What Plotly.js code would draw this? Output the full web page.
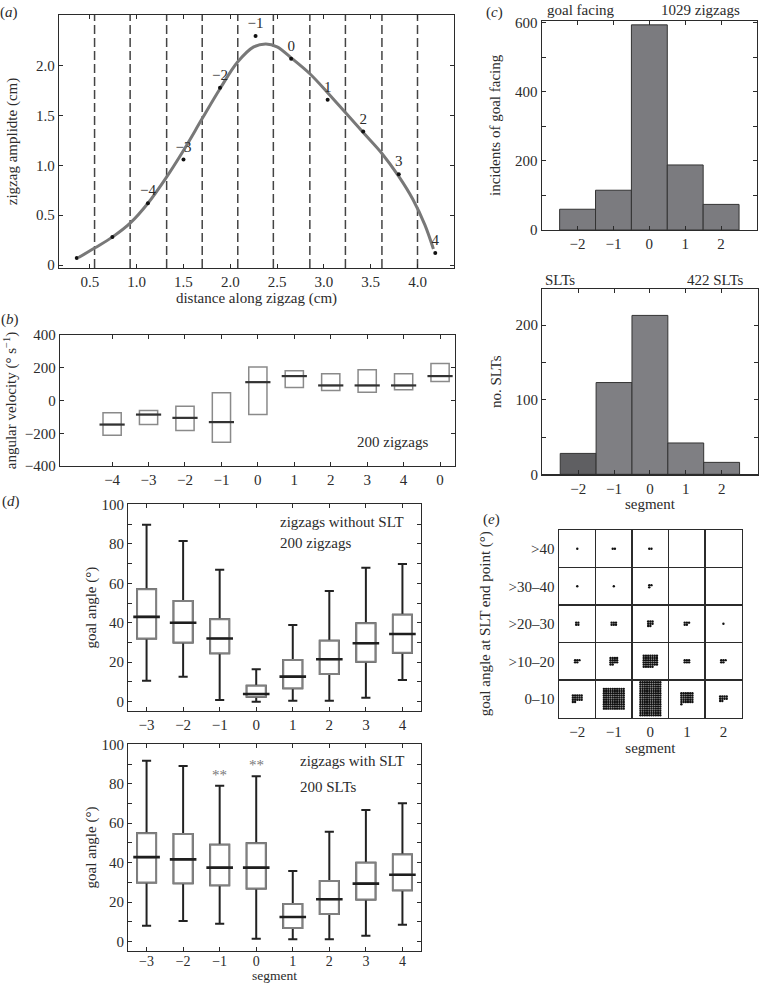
<!DOCTYPE html>
<html><head><meta charset="utf-8">
<script src="https://cdn.plot.ly/plotly-3.0.1.min.js"></script>
<style>html,body{margin:0;padding:0;background:#fff}#chart{width:759px;height:983px}</style>
</head><body><div id="chart"></div>
<script>
// ---------------- DATA ----------------
// (a) zigzag amplitude along the zigzag
const segBoundaries = [0.55, 0.93, 1.32, 1.70, 2.08, 2.46, 2.85, 3.23, 3.62, 4.00];
const curveX = [0.38, 0.55, 0.74, 0.93, 1.12, 1.31, 1.50, 1.70, 1.89, 2.08, 2.25, 2.38, 2.50, 2.65, 2.85, 3.04, 3.23, 3.42, 3.62, 3.80, 3.95, 4.08, 4.17];
const curveY = [0.075, 0.17, 0.28, 0.42, 0.62, 0.87, 1.15, 1.47, 1.77, 2.04, 2.19, 2.22, 2.19, 2.08, 1.92, 1.73, 1.53, 1.33, 1.12, 0.89, 0.66, 0.40, 0.16];
const ptX = [0.36, 0.74, 1.12, 1.50, 1.89, 2.27, 2.65, 3.04, 3.42, 3.80, 4.19];
const ptY = [0.07, 0.28, 0.62, 1.06, 1.78, 2.30, 2.07, 1.66, 1.34, 0.91, 0.12];
const segLabels = ['\u22124', '\u22123', '\u22122', '\u22121', '0', '1', '2', '3', '4']; // labels of points 3..11

// (b) angular velocity per segment (box: q1, median, q3)
const velCats = ['\u22124', '\u22123', '\u22122', '\u22121', '0', '1', '2', '3', '4', '0'];
const velQ1  = [-212, -147, -183, -255, -86, 80, 61, 51, 65, 116];
const velMed = [-147, -86, -106, -132, 112, 149, 92, 92, 92, 149];
const velQ3  = [-75, -61, -35, 47, 204, 181, 163, 188, 163, 226];

// (c) histograms
const histSegments = [-2, -1, 0, 1, 2];
const goalFacing = [60, 115, 593, 188, 74];
const sltCounts = [28, 123, 213, 42, 16];

// (d) goal angle box plots
const dSegments = [-3, -2, -1, 0, 1, 2, 3, 4];
const noSltMin = [10.6, 12.7, 0.9, 0, 0.5, 0.5, 2, 11];
const noSltQ1  = [32, 30, 24.5, 2.5, 6.8, 14, 20.3, 24.8];
const noSltMed = [43, 40, 32, 3.9, 12.7, 21.5, 29.6, 34.3];
const noSltQ3  = [57, 51, 41.8, 8.1, 21.1, 30.9, 39.7, 44];
const noSltMax = [89.6, 81.4, 66.8, 16.4, 38.9, 56.1, 67.8, 69.8];
const sltMin = [8, 10.5, 9, 1.5, 1.2, 1.2, 3, 8.6];
const sltQ1  = [29.9, 29.6, 28.6, 26.9, 6.9, 14, 21.3, 26];
const sltMed = [42.8, 41.7, 37.5, 37.5, 12.5, 21.5, 29.4, 33.9];
const sltQ3  = [54.9, 54.6, 49.1, 49.8, 19.1, 30.7, 40, 44.1];
const sltMax = [91.7, 89, 79, 83.8, 35.8, 55.7, 66.7, 70.1];
const sigSegments = [-1, 0];
const sigLabels = ['**', '**'];

// (e) goal angle at SLT end point: rows = angle bins, cols = segments -2..2
const endSegments = [-2, -1, 0, 1, 2];
const endAngleBins = ['0\u201310', '>10\u201320', '>20\u201330', '>30\u201340', '>40'];
const endCounts = [
  [17, 100, 160, 31, 10],
  [5, 14, 40, 6, 5],
  [4, 6, 8, 5, 1],
  [1, 1, 3, 0, 0],
  [1, 2, 2, 0, 0]
];

// ---------------- STYLE / LAYOUT ----------------
const F = "'Liberation Serif', 'Times New Roman', serif";
const INK = '#2b2b2b';
const W = 759, H = 983;
const dom = (a, b) => [a / W, b / W];
const domY = (t, b) => [1 - b / H, 1 - t / H];
const P = (px, py) => ({x: px / W, y: 1 - py / H, xref: 'paper', yref: 'paper'});

function axis(extra) {
  return Object.assign({
    showline: true, linecolor: INK, linewidth: 1.2, mirror: 'allticks',
    ticks: 'inside', ticklen: 4, tickwidth: 1, tickcolor: INK,
    zeroline: false, showgrid: false, fixedrange: true,
    tickfont: {family: F, size: 15, color: INK}
  }, extra);
}
function ttl(text, standoff) { return {text: text, font: {family: F, size: 15, color: INK}, standoff: standoff}; }
function blankOdd(vals, every) { return vals.map((v, i) => (i % every === 0 ? String(v) : '')); }

const traces = [];

// (a)
traces.push({x: curveX, y: curveY, mode: 'lines', line: {shape: 'spline', smoothing: 1.0, color: '#787878', width: 3},
  xaxis: 'x', yaxis: 'y', hoverinfo: 'skip'});
traces.push({x: ptX, y: ptY, mode: 'markers', marker: {size: 4, color: '#111'},
  xaxis: 'x', yaxis: 'y', hoverinfo: 'skip'});
const firstLabelled = ptX.length - segLabels.length;
traces.push({x: ptX.slice(firstLabelled), y: ptY.slice(firstLabelled), mode: 'markers+text', text: segLabels,
  textposition: 'top center', textfont: {family: F, size: 15, color: INK},
  marker: {size: 5, color: 'rgba(0,0,0,0)'},
  xaxis: 'x', yaxis: 'y', hoverinfo: 'skip'});

// (b)
const velPos = velCats.map((_, i) => i + 1);
traces.push({type: 'box', x: velPos, q1: velQ1, median: velMed, q3: velQ3, lowerfence: velQ1, upperfence: velQ3,
  width: 0.5, line: {color: '#8a8a8a', width: 1.5}, fillcolor: 'rgba(255,255,255,1)', boxpoints: false,
  xaxis: 'x2', yaxis: 'y2', hoverinfo: 'skip'});
traces.push({x: velPos, y: velMed, mode: 'markers', marker: {symbol: 'line-ew', size: 18, line: {width: 2.2, color: '#333'}},
  xaxis: 'x2', yaxis: 'y2', hoverinfo: 'skip'});

// (c)
traces.push({type: 'bar', x: histSegments, y: goalFacing, width: 1,
  marker: {color: '#7b7b7f', line: {color: '#333', width: 1}}, xaxis: 'x3', yaxis: 'y3', hoverinfo: 'skip'});
traces.push({type: 'bar', x: histSegments, y: sltCounts, width: 1,
  marker: {color: histSegments.map(s => (s === -2 ? '#5f5f62' : '#7f7f83')), line: {color: '#333', width: 1}},
  xaxis: 'x4', yaxis: 'y4', hoverinfo: 'skip'});

// (d)
function boxSet(xa, ya, mn, q1, md, q3, mx) {
  traces.push({type: 'box', x: dSegments, q1: q1, median: md, q3: q3, lowerfence: mn, upperfence: mx,
    width: 0.52, whiskerwidth: 0.48, line: {color: '#222', width: 2}, fillcolor: 'rgba(0,0,0,0)', boxpoints: false,
    xaxis: xa, yaxis: ya, hoverinfo: 'skip'});
  traces.push({type: 'box', x: dSegments, q1: q1, median: md, q3: q3, lowerfence: q1, upperfence: q3,
    width: 0.52, line: {color: '#808080', width: 2}, fillcolor: 'rgba(255,255,255,1)', boxpoints: false,
    xaxis: xa, yaxis: ya, hoverinfo: 'skip'});
  traces.push({x: dSegments, y: md, mode: 'markers', marker: {symbol: 'line-ew', size: 19, line: {width: 2.6, color: '#1e1e1e'}},
    xaxis: xa, yaxis: ya, hoverinfo: 'skip'});
}
boxSet('x5', 'y5', noSltMin, noSltQ1, noSltMed, noSltQ3, noSltMax);
boxSet('x6', 'y6', sltMin, sltQ1, sltMed, sltQ3, sltMax);

// (e) dot matrix: one dot per SLT, packed in a small block centred in each cell
const dotX = [], dotY = [];
const dotStepPx = 2.2;
endCounts.forEach((row, r) => {
  row.forEach((n, c) => {
    if (!n) return;
    const cols = Math.min(10, Math.ceil(Math.sqrt(n)));
    const rows = Math.ceil(n / cols);
    for (let k = 0; k < n; k++) {
      const rr = Math.floor(k / cols), cc = k % cols;
      dotX.push(endSegments[c] + (cc - (cols - 1) / 2) * dotStepPx / 36.5);
      dotY.push((r + 1) + ((rows - 1) / 2 - rr) * dotStepPx / 37.5);
    }
  });
});
traces.push({x: dotX, y: dotY, mode: 'markers', marker: {size: 2.4, color: '#111'}, xaxis: 'x7', yaxis: 'y7', hoverinfo: 'skip'});

// shapes: dashed segment boundaries in (a)
const shapes = segBoundaries.map(b => ({type: 'line', xref: 'x', yref: 'y domain', x0: b, x1: b, y0: 0, y1: 1,
  layer: 'below', line: {color: '#444', width: 1.5, dash: '9px,4px'}}));

function note(px, py, text, anchor, extra) {
  return Object.assign(P(px, py), {text: text, showarrow: false, xanchor: anchor || 'left', yanchor: 'middle',
    font: {family: F, size: 15, color: INK}}, extra || {});
}
const annotations = [
  note(8.5, 12.5, '(<i>a</i>)', 'center'),
  note(10, 319, '(<i>b</i>)', 'center'),
  note(494, 12.5, '(<i>c</i>)', 'center'),
  note(11, 501, '(<i>d</i>)', 'center'),
  note(491, 519, '(<i>e</i>)', 'center'),
  note(355, 442, '200 zigzags'),
  note(545, 10, 'goal facing'),
  note(742, 10, '1029 zigzags', 'right'),
  note(543, 280, 'SLTs'),
  note(745, 280, '422 SLTs', 'right'),
  note(278, 522, 'zigzags without SLT'),
  note(278, 543, '200 zigzags'),
  note(298, 761, 'zigzags with SLT'),
  note(298, 787, '200 SLTs'),
  // x-axis title of the lower (d) panel
  note(274.5, 983, 'segment', 'center', {yanchor: 'bottom', yshift: -1, borderpad: 0, font: {family: F, size: 13.5, color: INK}})
];
sigSegments.forEach((s, i) => {
  annotations.push({x: s, y: sltMax[dSegments.indexOf(s)], xref: 'x6', yref: 'y6', text: sigLabels[i], showarrow: false,
    xanchor: 'center', yanchor: 'bottom', yshift: 1, font: {family: F, size: 15, color: '#777'}});
});

const layout = {
  width: W, height: H, margin: {l: 0, r: 0, t: 0, b: 0}, paper_bgcolor: '#fff', plot_bgcolor: '#fff',
  showlegend: false, boxmode: 'overlay', bargap: 0, shapes: shapes, annotations: annotations,
  // (a)
  xaxis: axis({domain: dom(59, 454), anchor: 'y', range: [0.17, 4.39],
    tickvals: [0.5, 1, 1.5, 2, 2.5, 3, 3.5, 4], ticktext: ['0.5', '1.0', '1.5', '2.0', '2.5', '3.0', '3.5', '4.0'],
    title: ttl('distance along zigzag (cm)', 2)}),
  yaxis: axis({domain: domY(15, 268), anchor: 'x', range: [-0.03, 2.51],
    tickvals: [0, 0.5, 1, 1.5, 2], ticktext: ['0', '0.5', '1.0', '1.5', '2.0'],
    title: ttl('zigzag amplidte (cm)', 14)}),
  // (b)
  xaxis2: axis({domain: dom(60, 455), anchor: 'y2', range: [-0.43, 10.41], tickvals: velPos, ticktext: velCats}),
  yaxis2: axis({domain: domY(335, 466), anchor: 'x2', range: [-400, 400], tickvals: [-400, -200, 0, 200, 400],
    title: ttl('angular velocity (\u00b0 s<sup>\u22121</sup>)', 4)}),
  // (c) top
  xaxis3: axis({domain: dom(541.7, 757), anchor: 'y3', range: [-3, 3], tickvals: histSegments}),
  yaxis3: axis({domain: domY(20.7, 230), anchor: 'x3', range: [0, 605],
    tickvals: [0, 100, 200, 300, 400, 500, 600], ticktext: blankOdd([0, 100, 200, 300, 400, 500, 600], 2),
    title: ttl('incidents of goal facing', 10)}),
  // (c) bottom
  xaxis4: axis({domain: dom(542.3, 757.5), anchor: 'y4', range: [-3, 3], tickvals: histSegments, title: ttl('segment', 0)}),
  yaxis4: axis({domain: domY(289.3, 474.3), anchor: 'x4', range: [0, 248],
    tickvals: [0, 50, 100, 150, 200], ticktext: blankOdd([0, 50, 100, 150, 200], 2),
    title: ttl('no. SLTs', 10)}),
  // (d) top
  xaxis5: axis({domain: dom(128.3, 420.7), anchor: 'y5', range: [-3.5, 4.5], tickvals: dSegments}),
  yaxis5: axis({domain: domY(504.3, 711), anchor: 'x5', range: [-4.7, 100],
    tickvals: [0, 10, 20, 30, 40, 50, 60, 70, 80, 90, 100], ticktext: blankOdd([0, 10, 20, 30, 40, 50, 60, 70, 80, 90, 100], 2),
    title: ttl('goal angle (\u00b0)', 1)}),
  // (d) bottom
  xaxis6: axis({domain: dom(128.3, 420.7), anchor: 'y6', range: [-3.5, 4.5], tickvals: dSegments,
    ticklabelstandoff: -3, tickfont: {family: F, size: 14, color: INK}}),
  yaxis6: axis({domain: domY(744.3, 950.7), anchor: 'x6', range: [-4.6, 100],
    tickvals: [0, 10, 20, 30, 40, 50, 60, 70, 80, 90, 100], ticktext: blankOdd([0, 10, 20, 30, 40, 50, 60, 70, 80, 90, 100], 2),
    title: ttl('goal angle (\u00b0)', 1)}),
  // (e)
  xaxis7: axis({domain: dom(559, 741.7), anchor: 'y7', range: [-2.5, 2.5], tickvals: endSegments, ticks: '',
    linewidth: 1.5, minor: {tickmode: 'array', tickvals: [-1.5, -0.5, 0.5, 1.5], showgrid: true, gridcolor: INK, gridwidth: 1.5, ticks: ''},
    title: ttl('segment', 0)}),
  yaxis7: axis({domain: domY(530, 717.5), anchor: 'x7', range: [0.5, 5.5], tickvals: [1, 2, 3, 4, 5], ticktext: endAngleBins, ticks: '',
    linewidth: 1.5, minor: {tickmode: 'array', tickvals: [1.5, 2.5, 3.5, 4.5], showgrid: true, gridcolor: INK, gridwidth: 1.5, ticks: ''},
    title: ttl('goal angle at SLT end point (\u00b0)', 14)})
};

Plotly.newPlot('chart', traces, layout, {staticPlot: true, displayModeBar: false});
</script>
</body></html>
